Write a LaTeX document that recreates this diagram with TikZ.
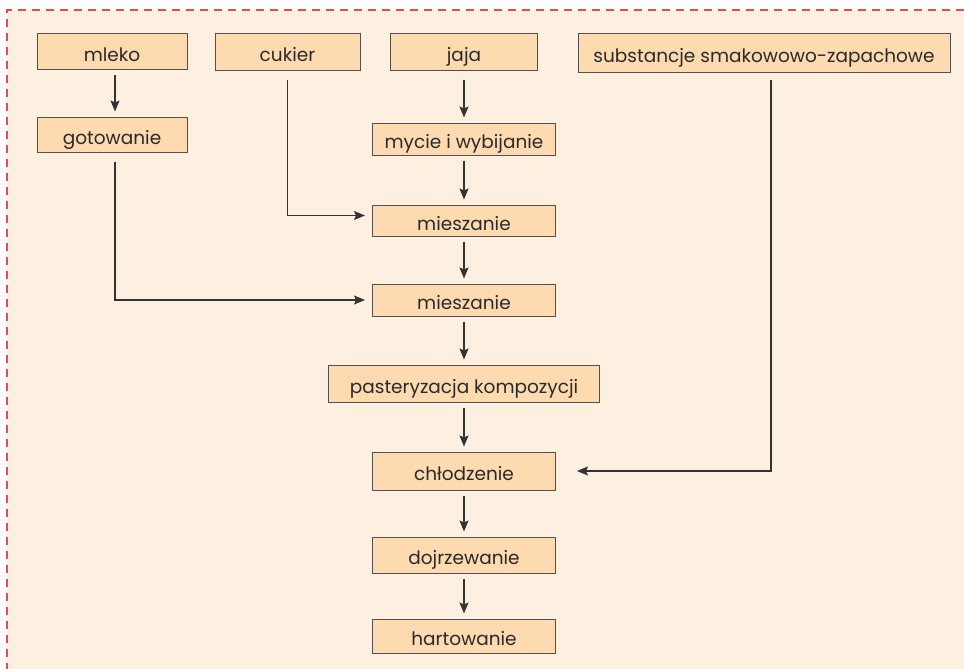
\documentclass[tikz,border=0pt]{standalone}
\usepackage{fontspec}
\setmainfont{Poppins}
\usetikzlibrary{arrows.meta,calc}
\definecolor{bgcream}{HTML}{FDF0E1}
\definecolor{boxfill}{HTML}{FDDAB0}
\definecolor{boxline}{HTML}{555050}
\definecolor{txt}{HTML}{2A2A2A}
\definecolor{linec}{HTML}{333333}
\definecolor{frame}{HTML}{E04B58}
\tikzset{
  stepbox/.style={draw=boxline, line width=1pt, fill=boxfill, inner sep=0pt,
    text=txt, font=\fontsize{18.5}{22}\selectfont, text height=19pt, text depth=-1pt,
    anchor=center},
  flow/.style={draw=linec, line width=1.1pt,
    -{Stealth[length=11pt,width=9pt,inset=2pt]}, shorten >=5pt, shorten <=5pt},
}
\begin{document}
\begin{tikzpicture}[x=1pt,y=-1pt]
\useasboundingbox (0,0) rectangle (964,669);
\fill[bgcream] (7,10) rectangle (964,669);
\draw[frame, line width=1.3pt, dash pattern=on 8pt off 6pt] (964,10) -- (7,10) -- (7,669);

\node[stepbox, minimum width=150pt, minimum height=36pt] (mleko) at (112,52) {mleko};
\node[stepbox, minimum width=145pt, minimum height=37pt] (cukier) at (287.5,52.5) {cukier};
\node[stepbox, minimum width=147pt, minimum height=37pt] (jaja) at (464,52.5) {jaja};
\node[stepbox, minimum width=372pt, minimum height=39pt] (subst) at (764,53.5) {substancje smakowowo-zapachowe};
\node[stepbox, minimum width=150pt, minimum height=35pt] (got) at (112,134.5) {gotowanie};
\node[stepbox, minimum width=183pt, minimum height=32pt] (myc) at (464,139) {mycie i wybijanie};
\node[stepbox, minimum width=183pt, minimum height=31pt] (mie1) at (464,220.5) {mieszanie};
\node[stepbox, minimum width=183pt, minimum height=32pt] (mie2) at (464,300) {mieszanie};
\node[stepbox, minimum width=271pt, minimum height=37pt] (past) at (464,383.5) {pasteryzacja kompozycji};
\node[stepbox, minimum width=183pt, minimum height=38pt] (chl) at (464,471) {chłodzenie};
\node[stepbox, minimum width=183pt, minimum height=36pt] (doj) at (464,555) {dojrzewanie};
\node[stepbox, minimum width=183pt, minimum height=34pt] (hart) at (464,636) {hartowanie};

\draw[flow] ([xshift=3pt]mleko.south) -- ([xshift=3pt]got.north);
\draw[flow, shorten <=9pt] (jaja.south) -- (myc.north);
\draw[flow] (myc.south) -- (mie1.north);
\draw[flow] (mie1.south) -- (mie2.north);
\draw[flow] (mie2.south) -- (past.north);
\draw[flow] (past.south) -- (chl.north);
\draw[flow] (chl.south) -- (doj.north);
\draw[flow] (doj.south) -- (hart.north);
\draw[flow, shorten <=9pt, shorten >=7pt] (cukier.south) |- ([yshift=5pt]mie1.west);
\draw[flow, shorten <=9pt, shorten >=7pt] ([xshift=3pt]got.south) |- (mie2.west);
\draw[flow, shorten <=7pt, shorten >=21pt] ([xshift=7pt]subst.south) |- (chl.east);
\end{tikzpicture}
\end{document}
